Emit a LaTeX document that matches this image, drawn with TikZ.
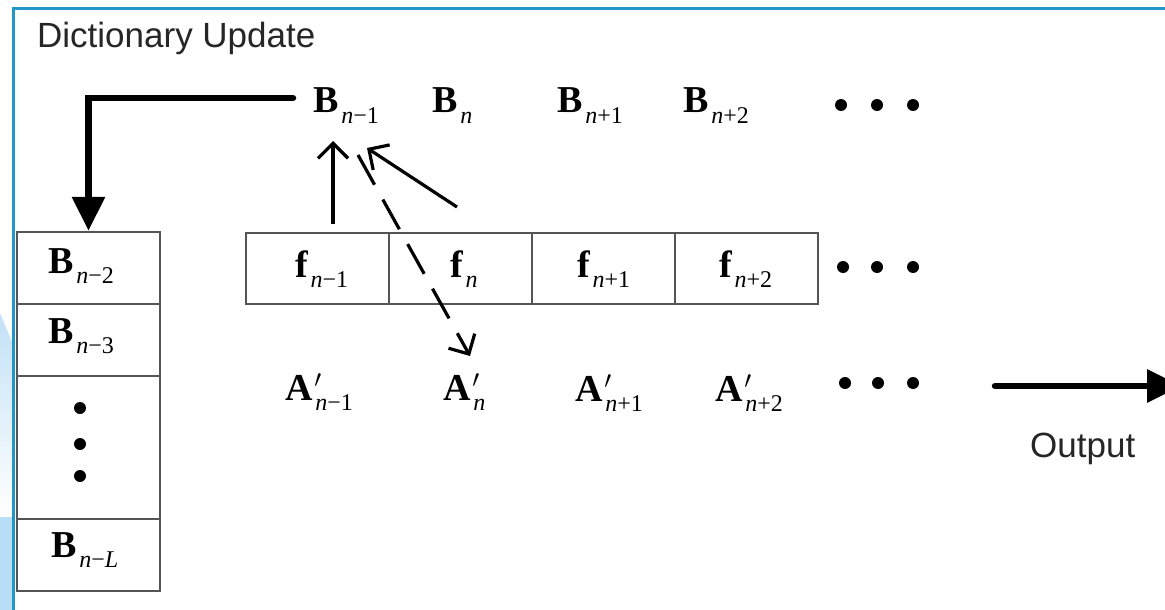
\documentclass[tikz,border=0pt]{standalone}
\usepackage{fontspec}
\setmainfont{Liberation Serif}
\newfontfamily\sansf{Liberation Sans}
\usetikzlibrary{arrows.meta}
\definecolor{frameblue}{RGB}{33,150,200}
\definecolor{paleblue}{RGB}{185,222,247}
\definecolor{fadeblue}{RGB}{195,225,246}
\definecolor{boxgray}{RGB}{85,85,85}
\newcommand{\mainsz}{\fontsize{38}{38}\selectfont}
\newcommand{\subsz}{\fontsize{24}{24}\selectfont}
\newcommand{\symb}[2]{{\mainsz\bfseries #1}\kern3pt\raisebox{-10pt}{\subsz #2}}
\newcommand{\symbp}[2]{{\mainsz\bfseries #1}\kern2pt\rlap{\raisebox{13pt}{\fontsize{28}{28}\selectfont$\prime$}}\kern1pt\raisebox{-10pt}{\subsz #2}}
\newcommand{\nn}{\textit{n}}
\begin{document}
\begin{tikzpicture}[x=1pt,y=-1pt,
  lbl/.style={anchor=base west,inner sep=0pt,outer sep=0pt},
  cell/.style={draw=boxgray,line width=2.5pt,minimum width=143pt,inner sep=0pt},
  dotnode/.style={circle,fill=black,minimum size=12pt,inner sep=0pt},
  thickarr/.style={line width=6.5pt,line cap=round,-{Triangle[length=34pt,width=32pt]}},
  thinarr/.style={line width=3.2pt,-{Straight Barb[length=15pt,width=30pt,line width=3.2pt]}},
  sanslbl/.style={anchor=base west,inner sep=0pt,font=\sansf\fontsize{35}{35}\selectfont,text=black!85}
]
\useasboundingbox (0,0) rectangle (1165,610);
\clip (0,0) rectangle (1165,610);
\fill[white] (0,0) rectangle (1165,610);
% left decoration
\shade[top color=fadeblue,bottom color=white] (0,313) -- (12,342) -- (12,517) -- (0,517) -- cycle;
\fill[paleblue] (0,517) rectangle (12,610);
% frame
\draw[frameblue,line width=3pt] (1170,8.5) -- (13.5,8.5) -- (13.5,620);

\node[sanslbl] (title) at (37,48) {Dictionary Update};
\node[sanslbl] (outlbl) at (1030,457) {Output};

% top row
\node[lbl] (bn1) at (313,113) {\symb{B}{\nn−1}};
\node[lbl] (bn) at (432,113) {\symb{B}{\nn}};
\node[lbl] (bp1) at (557,113) {\symb{B}{\nn+1}};
\node[lbl] (bp2) at (683,113) {\symb{B}{\nn+2}};
\node[dotnode] (td1) at (841,105) {};
\node[dotnode] (td2) at (877,105) {};
\node[dotnode] (td3) at (913,105) {};

% f row boxes
\node[cell,minimum height=71pt] (f1) at (317.5,268.5) {};
\node[cell,minimum height=71pt] (f2) at (460.5,268.5) {};
\node[cell,minimum height=71pt] (f3) at (603.5,268.5) {};
\node[cell,minimum height=71pt] (f4) at (746.5,268.5) {};
\node[lbl] (lf1) at (295,277) {\symb{f}{\nn−1}};
\node[lbl] (lf2) at (450,277) {\symb{f}{\nn}};
\node[lbl] (lf3) at (577,277) {\symb{f}{\nn+1}};
\node[lbl] (lf4) at (719,277) {\symb{f}{\nn+2}};
\node[dotnode] (md1) at (843,267) {};
\node[dotnode] (md2) at (877,267) {};
\node[dotnode] (md3) at (913,267) {};

% A row
\node[lbl] (a1) at (285,400) {\symbp{A}{\nn−1}};
\node[lbl] (a2) at (443,400) {\symbp{A}{\nn}};
\node[lbl] (a3) at (575,401) {\symbp{A}{\nn+1}};
\node[lbl] (a4) at (715,401) {\symbp{A}{\nn+2}};
\node[dotnode] (bd1) at (845,383) {};
\node[dotnode] (bd2) at (878,383) {};
\node[dotnode] (bd3) at (913,383) {};

% left stack
\node[cell,minimum height=72pt] (s1) at (88.5,268) {};
\node[cell,minimum height=72pt] (s2) at (88.5,340) {};
\node[cell,minimum height=143pt] (s3) at (88.5,447.5) {};
\node[cell,minimum height=72pt] (s4) at (88.5,555) {};
\node[lbl] (ls1) at (48,273) {\symb{B}{\nn−2}};
\node[lbl] (ls2) at (48,343) {\symb{B}{\nn−3}};
\node[lbl] (ls4) at (51,557) {\symb{B}{\nn−\textit{L}}};
\node[dotnode] (sd1) at (80,408) {};
\node[dotnode] (sd2) at (80,444) {};
\node[dotnode] (sd3) at (80,476) {};

% connectors
\coordinate (tstart) at (293,98);
\draw[thickarr] (tstart) -| (s1.north);

\coordinate (v1s) at (333,224);
\coordinate (v1e) at (333,141);
\draw[thinarr] (v1s) -- (v1e);
\coordinate (v2s) at (457,207);
\coordinate (v2e) at (367,148);
\draw[thinarr] (v2s) -- (v2e);
\coordinate (v3s) at (358,155);
\coordinate (v3e) at (470,356);
\draw[thinarr,dash pattern=on 34pt off 17pt] (v3s) -- (v3e);

\coordinate (os) at (995,386);
\coordinate (oe) at (1181,386);
\draw[thickarr] (os) -- (oe);
\end{tikzpicture}
\end{document}
